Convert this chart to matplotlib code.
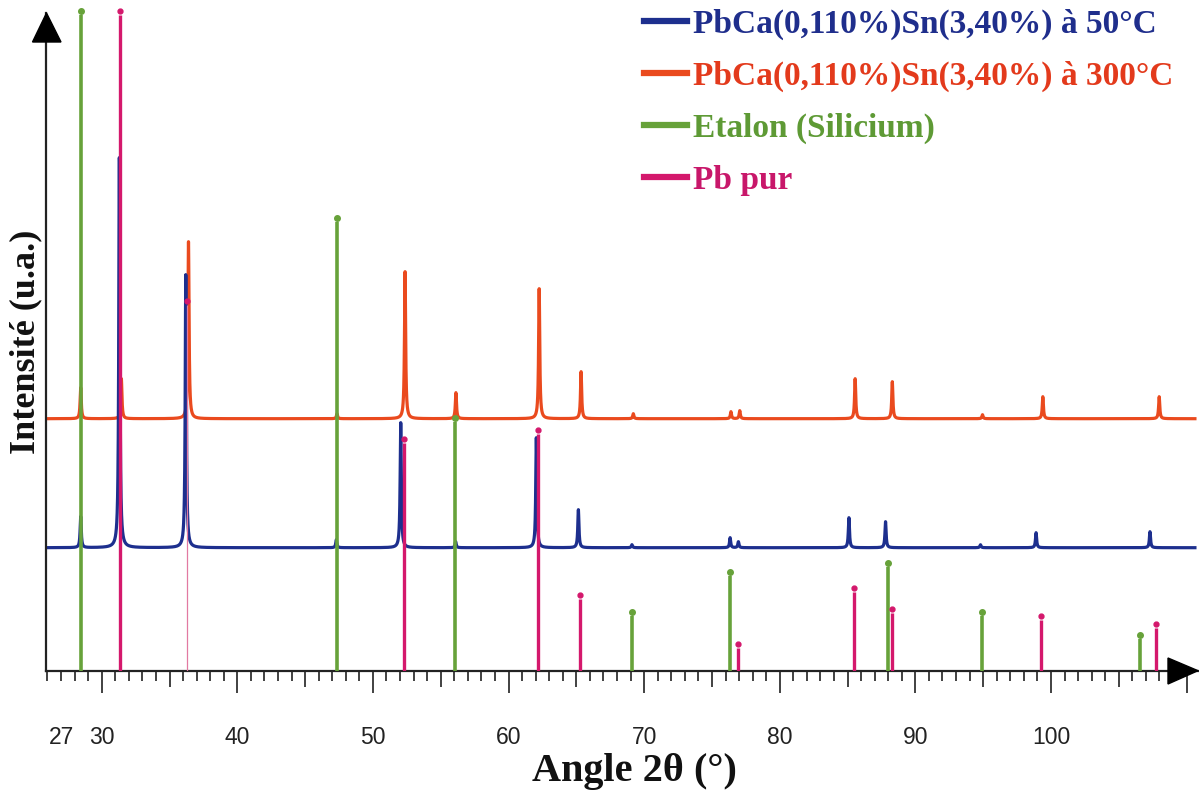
import numpy as np
import matplotlib
matplotlib.use("Agg")
import matplotlib.pyplot as plt
from matplotlib.lines import Line2D
from matplotlib.patches import Polygon

# ---------------- data ----------------
# reference sticks: Si standard (Etalon) and pure Pb
si_pos = [28.45, 47.35, 56.08, 69.1, 76.35, 88.0, 94.95, 106.6]
si_int = [656, 449, 249, 55, 95, 104, 55, 32]
pb_pos = [31.35, 36.3, 52.3, 62.15, 65.27, 76.93, 85.48, 88.26, 99.3, 107.75]
pb_int = [656, 366, 228, 237, 72, 23, 79, 58, 51, 43]

# measured patterns (peak position, peak height above own baseline)
blue_pos = [28.45, 31.3, 36.2, 47.3, 52.05, 56.1, 62.05, 65.15, 69.1, 76.34, 76.95,
            85.1, 87.8, 94.8, 98.9, 107.3]
blue_int = [31, 390, 273, 8, 125, 6, 110, 38, 3, 10, 6, 30, 26, 3, 15, 16]
red_pos = [28.45, 31.45, 36.4, 47.35, 52.37, 56.12, 62.26, 65.35, 69.2, 76.4, 77.05,
           85.56, 88.3, 94.95, 99.4, 107.98]
red_int = [31, 40, 177, 5, 147, 26, 130, 47, 5, 7, 8, 40, 37, 4, 22, 22]

blue_offset = 123   # vertical offset of the 50 °C pattern
red_offset = 252    # vertical offset of the 300 °C pattern

xtick_major = [27, 30, 35, 40, 45, 50, 55, 60, 65, 70, 75, 80, 85, 90, 95, 100, 105, 110]
xtick_labels = ["27", "30", "", "40", "", "50", "", "60", "", "70", "", "80", "", "90",
                "", "100", "", ""]

labels = ["PbCa(0,110%)Sn(3,40%) à 50°C", "PbCa(0,110%)Sn(3,40%) à 300°C",
          "Etalon (Silicium)", "Pb pur"]

# ---------------- style ----------------
C_BLUE = "#1d2f8e"
C_RED = "#ea4a1e"
C_GREEN = "#67a23a"
C_MAG = "#d4186c"
C_PINK = "#e27aa2"

W, H = 1199, 793
fig = plt.figure(figsize=(W / 100, H / 100), dpi=100)
x_left_px, x_right_px, y_base_px, y_top_px = 45.7, 1198, 670.7, 13
ax = fig.add_axes([x_left_px / W, (H - y_base_px) / H,
                   (x_right_px - x_left_px) / W, (y_base_px - y_top_px) / H])
px_per_unit = 13.561
x0 = 30 + (x_left_px - 101.7) / px_per_unit
x1 = 30 + (x_right_px - 101.7) / px_per_unit
ax.set_xlim(x0, x1)
ax.set_ylim(0, y_base_px - y_top_px)

# measured patterns
xg = np.arange(26.05, 110.62, 0.005)
def profile(pos, inten, w=0.05):
    y = np.zeros_like(xg)
    for p, h in zip(pos, inten):
        y += h / (1 + ((xg - p) / w) ** 2)
    return y

ax.plot(xg, profile(red_pos, red_int) + red_offset, color=C_RED, lw=2.3, zorder=2)
ax.plot(xg, profile(blue_pos, blue_int) + blue_offset, color=C_BLUE, lw=2.3, zorder=2)

# reference sticks
ax.vlines(si_pos, 0, si_int, color=C_GREEN, lw=2.6, zorder=3)
ax.plot(si_pos, np.array(si_int) + 4, "o", color=C_GREEN, ms=4, zorder=3, clip_on=False)
pb_lw = [2.4 if p != 36.3 else 0.9 for p in pb_pos]
pb_col = [C_MAG if p != 36.3 else C_PINK for p in pb_pos]
ax.vlines(pb_pos, 0, pb_int, color=pb_col, lw=pb_lw, zorder=4)
ax.plot(pb_pos, np.array(pb_int) + 4, "o", color=C_MAG, ms=3.5, zorder=4, clip_on=False)

# axes styling
for s in ["top", "right"]:
    ax.spines[s].set_visible(False)
for s in ["left", "bottom"]:
    ax.spines[s].set_linewidth(1.6)
    ax.spines[s].set_color("#222222")
ax.set_yticks([])
ax.set_xticks(xtick_major)
ax.set_xticklabels(xtick_labels, fontfamily="Liberation Sans", fontsize=16.5, color="#222222")
ax.set_xticks(np.arange(26, 111, 1), minor=True)
ax.tick_params(axis="x", which="major", direction="out", length=15.8, width=1.3,
               color="#333333", pad=24)
ax.tick_params(axis="x", which="minor", direction="out", length=7.5, width=1.3,
               color="#333333")
for t, v in zip(ax.xaxis.get_major_ticks(), xtick_major):
    if v == 27:
        t.tick1line.set_markersize(7.5)
    elif v % 10 == 5:
        t.tick1line.set_markersize(11.5)

# arrow heads
def fpx(x, y):
    return (x / W, 1 - y / H)
fig.patches.append(Polygon([fpx(46.5, 13), fpx(32.5, 42), fpx(61, 42)], closed=True,
                           transform=fig.transFigure, color="black", zorder=5))
fig.patches.append(Polygon([fpx(1198, 670.7), fpx(1168, 658), fpx(1168, 684)], closed=True,
                           transform=fig.transFigure, color="black", zorder=5))

# axis labels
fig.text(26 / W, 1 - 342 / H, "Intensité (u.a.)", rotation=90, ha="center", va="center",
         fontfamily="Liberation Serif", fontweight="bold", fontsize=26, color="#111111")
fig.text(634 / W, 1 - 772 / H, "Angle 2θ (°)", ha="center", va="center",
         fontfamily="Liberation Serif", fontweight="bold", fontsize=29, color="#111111")

# legend
handles = [Line2D([], [], color=c, lw=4.5) for c in [C_BLUE, C_RED, C_GREEN, C_MAG]]
leg = fig.legend(handles, labels, loc="upper left", bbox_to_anchor=(644 / W, 1 - 9 / H),
                 frameon=False, borderpad=0, borderaxespad=0, handlelength=1.3,
                 handletextpad=0.18, labelspacing=0.62,
                 prop=dict(family="Liberation Serif", weight="bold", size=24),
                 labelcolor=["#1f2e8c", "#e33a1c", "#5e9a35", "#c8176a"])

fig.savefig("out.png", dpi=100)
